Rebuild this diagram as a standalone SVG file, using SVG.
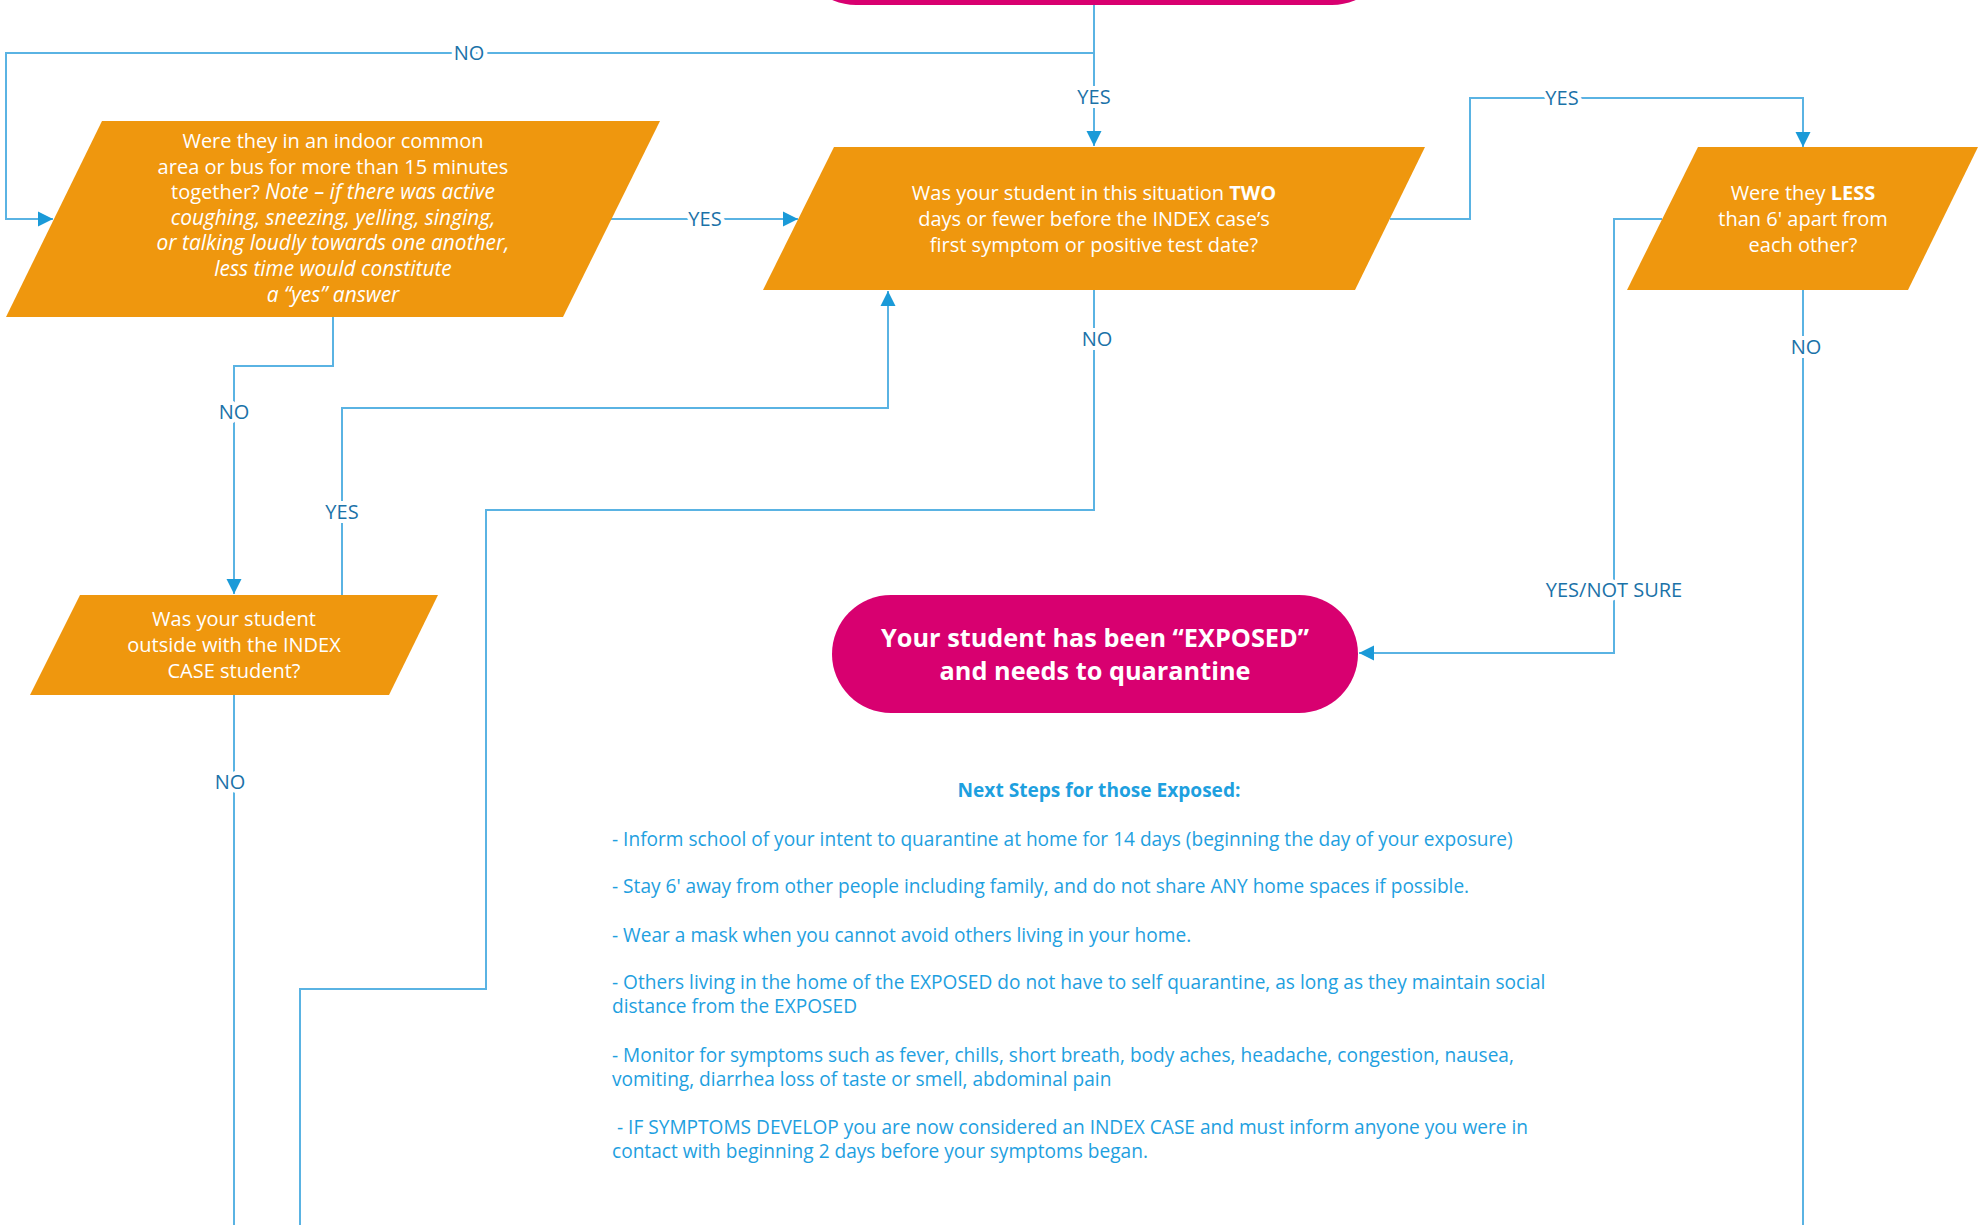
<svg xmlns="http://www.w3.org/2000/svg" width="1986" height="1225" viewBox="0 0 1986 1225">
<style>
.term{fill:#D80070}
.dec{fill:#EF970E}
.nt{font-family:"Open Sans","Noto Sans",sans-serif;font-size:20px;fill:#FFFFFF;text-anchor:middle}
.it{font-style:italic;font-size:20.9px}
.tt{font-family:"Open Sans","Noto Sans",sans-serif;font-size:25.3px;font-weight:bold;fill:#FFFFFF;text-anchor:middle}
.conn{fill:none;stroke:#5AB3E3;stroke-width:2}
.lbl{font-family:"Open Sans","Noto Sans",sans-serif;font-size:20px;fill:#1B72A8;text-anchor:middle;paint-order:stroke;stroke:#FFFFFF;stroke-width:8px;stroke-linejoin:round}
.steps{font-family:"Open Sans","Noto Sans",sans-serif;font-size:19.1px;fill:#1EA0DF}
.hdr{font-weight:bold;text-anchor:middle}
</style>
<defs>
<marker id="arr" markerUnits="userSpaceOnUse" markerWidth="16" markerHeight="16" refX="15" refY="8" orient="auto">
<path d="M0,0.5 L15,8 L0,15.5 z" fill="#1A9AD8"/>
</marker>
</defs>
<rect width="1986" height="1225" fill="#FFFFFF"/>

<g id="connectors">
<path class="conn" d="M1094,5 V146" marker-end="url(#arr)"/>
<path class="conn" d="M1094,53 H6 V219 H53" marker-end="url(#arr)"/>
<path class="conn" d="M611,219 H798" marker-end="url(#arr)"/>
<path class="conn" d="M1390,219 H1470 V98 H1803 V147" marker-end="url(#arr)"/>
<path class="conn" d="M333,317 V366 H234 V594" marker-end="url(#arr)"/>
<path class="conn" d="M342,595 V408 H888 V291" marker-end="url(#arr)"/>
<path class="conn" d="M1094,290 V510 H486 V989 H300 V1225"/>
<path class="conn" d="M234,695 V1225"/>
<path class="conn" d="M1803,290 V1225"/>
<path class="conn" d="M1662,219 H1614 V653 H1359" marker-end="url(#arr)"/>
<text class="lbl" x="1094" y="104">YES</text>
<text class="lbl" x="469" y="60">NO</text>
<text class="lbl" x="705" y="226">YES</text>
<text class="lbl" x="1562" y="105">YES</text>
<text class="lbl" x="234" y="419">NO</text>
<text class="lbl" x="342" y="519">YES</text>
<text class="lbl" x="1097" y="346">NO</text>
<text class="lbl" x="230" y="789">NO</text>
<text class="lbl" x="1806" y="354">NO</text>
<text class="lbl" x="1614" y="597">YES/NOT SURE</text>
</g>

<g id="start">
<rect class="term" x="797" y="-113" width="594" height="118" rx="59" ry="59"/>
</g>

<g id="q-indoor">
<polygon class="dec" points="102,121 660,121 563,317 6,317"/>
<text class="nt" x="333" y="148">Were they in an indoor common</text>
<text class="nt" x="333" y="174">area or bus for more than 15 minutes</text>
<text class="nt" x="333" y="199">together? <tspan class="it">Note – if there was active</tspan></text>
<text class="nt it" x="333" y="225">coughing, sneezing, yelling, singing,</text>
<text class="nt it" x="333" y="250">or talking loudly towards one another,</text>
<text class="nt it" x="333" y="276">less time would constitute</text>
<text class="nt it" x="333" y="302">a “yes” answer</text>
</g>

<g id="q-two-days">
<polygon class="dec" points="834,147 1425,147 1355,290 763,290"/>
<text class="nt" x="1094" y="200">Was your student in this situation <tspan font-weight="bold">TWO</tspan></text>
<text class="nt" x="1094" y="226">days or fewer before the INDEX case’s</text>
<text class="nt" x="1094" y="252">first symptom or positive test date?</text>
</g>

<g id="q-less-6ft">
<polygon class="dec" points="1698,147 1978,147 1908,290 1627,290"/>
<text class="nt" x="1803" y="200">Were they <tspan font-weight="bold">LESS</tspan></text>
<text class="nt" x="1803" y="226">than 6' apart from</text>
<text class="nt" x="1803" y="252">each other?</text>
</g>

<g id="q-outside">
<polygon class="dec" points="80,595 438,595 389,695 30,695"/>
<text class="nt" x="234" y="626">Was your student</text>
<text class="nt" x="234" y="652">outside with the INDEX</text>
<text class="nt" x="234" y="678">CASE student?</text>
</g>

<g id="exposed">
<rect class="term" x="832" y="595" width="526" height="118" rx="59" ry="59"/>
<text class="tt" x="1095" y="647">Your student has been “EXPOSED”</text>
<text class="tt" x="1095" y="680">and needs to quarantine</text>
</g>

<g id="next-steps">
<text class="steps hdr" x="1099" y="797">Next Steps for those Exposed:</text>
<text class="steps" x="612" y="846">- Inform school of your intent to quarantine at home for 14 days (beginning the day of your exposure)</text>
<text class="steps" x="612" y="893">- Stay 6' away from other people including family, and do not share ANY home spaces if possible.</text>
<text class="steps" x="612" y="942">- Wear a mask when you cannot avoid others living in your home.</text>
<text class="steps" x="612" y="989">- Others living in the home of the EXPOSED do not have to self quarantine, as long as they maintain social</text>
<text class="steps" x="612" y="1013">distance from the EXPOSED</text>
<text class="steps" x="612" y="1062">- Monitor for symptoms such as fever, chills, short breath, body aches, headache, congestion, nausea,</text>
<text class="steps" x="612" y="1086">vomiting, diarrhea loss of taste or smell, abdominal pain</text>
<text class="steps" x="617" y="1134">- IF SYMPTOMS DEVELOP you are now considered an INDEX CASE and must inform anyone you were in</text>
<text class="steps" x="612" y="1158">contact with beginning 2 days before your symptoms began.</text>
</g>
</svg>
